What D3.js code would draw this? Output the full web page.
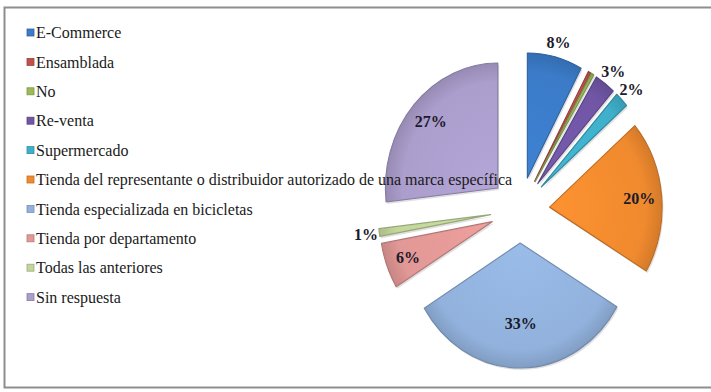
<!DOCTYPE html>
<html>
<head>
<meta charset="utf-8">
<script src="https://cdn.jsdelivr.net/npm/d3@7"></script>
</head>
<body style="margin:0;background:#fff">
<svg id="chart" width="711" height="392"></svg>
<script>
// Purchase channel shares (percent)
const categories = [
  "E-Commerce",
  "Ensamblada",
  "No",
  "Re-venta",
  "Supermercado",
  "Tienda del representante o distribuidor autorizado de una marca específica",
  "Tienda especializada en bicicletas",
  "Tienda por departamento",
  "Todas las anteriores",
  "Sin respuesta"
];
const values = [8, 0.4, 0.4, 3, 2, 20, 33, 6, 1, 27];
// "" = slice carries no label
const valueLabels = ["8%", "", "", "3%", "2%", "20%", "33%", "6%", "1%", "27%"];
const colors = [
  "#3b7bc8", "#c0504d", "#9bbb59", "#7156a6", "#3fb0cc",
  "#f08a2e", "#92b2dd", "#e29896", "#c3d69b", "#ab9dcc"
];
// slices small enough to carry their label outside
const outsideLabels = ["E-Commerce", "Re-venta", "Supermercado", "Todas las anteriores"];

const FONT = '"Liberation Serif"';
const svg = d3.select("#chart");

// chart frame
svg.append("rect")
  .attr("x", 4.5).attr("y", 7.5)
  .attr("width", 740).attr("height", 380)
  .attr("fill", "#fff")
  .attr("stroke", "#8e8e8e").attr("stroke-width", 2);

// pie geometry
const cx = 520, cy = 210;
const r = 125;          // vertical radius
const sx = 0.9;         // horizontal squash of the plot area
const explode = 33;     // distance each slice is pulled out

const pie = d3.pie().sort(null).value(d => d.value);
const arcs = pie(categories.map((c, i) => ({ name: c, value: values[i], color: colors[i], label: valueLabels[i] })));
const arc = d3.arc().innerRadius(0).outerRadius(r);
const mid = a => (a.startAngle + a.endAngle) / 2;

const defs = svg.append("defs");
arcs.forEach((a, i) => {
  const base = d3.color(a.data.color);
  const g = defs.append("radialGradient")
    .attr("id", "g" + i)
    .attr("gradientUnits", "userSpaceOnUse")
    .attr("cx", 0).attr("cy", 0).attr("r", r);
  g.append("stop").attr("offset", "0%").attr("stop-color", base.brighter(0.15));
  g.append("stop").attr("offset", "85%").attr("stop-color", base);
  g.append("stop").attr("offset", "100%").attr("stop-color", base.darker(0.35));
});

const pieG = svg.append("g")
  .attr("transform", `translate(${cx},${cy}) scale(${sx},1)`);

const offset = a => `translate(${explode * Math.sin(mid(a))},${-explode * Math.cos(mid(a))})`;

// soft shadow under each slice
pieG.selectAll("path.shade")
  .data(arcs)
  .join("path")
  .attr("class", "shade")
  .attr("transform", a => offset(a) + " translate(1.5,2)")
  .attr("d", arc)
  .attr("fill", "#000")
  .attr("fill-opacity", 0.12);

pieG.selectAll("path.slice")
  .data(arcs)
  .join("path")
  .attr("class", "slice")
  .attr("transform", offset)
  .attr("d", arc)
  .attr("fill", (a, i) => `url(#g${i})`)
  .attr("stroke", a => d3.color(a.data.color).darker(0.7))
  .attr("stroke-width", 1.2)
  .attr("stroke-linejoin", "round");

// legend
const legend = svg.append("g").attr("transform", "translate(27,32.5)");
const rowH = 29.4;
const rows = legend.selectAll("g")
  .data(categories)
  .join("g")
  .attr("transform", (d, i) => `translate(0,${i * rowH})`);
rows.append("rect")
  .attr("x", 0).attr("y", -3.5)
  .attr("width", 7).attr("height", 7)
  .attr("fill", (d, i) => colors[i])
  .attr("stroke", (d, i) => d3.color(colors[i]).darker(0.6))
  .attr("stroke-width", 0.8);
rows.append("text")
  .attr("x", 9).attr("y", 0)
  .attr("dy", "0.35em")
  .attr("font-family", "Liberation Serif")
  .style("font-family", FONT)
  .style("font-size", "16px")
  .attr("fill", "#1a1a1a")
  .text(d => d);

// percentage labels
function labelRadius(a) {
  if (outsideLabels.includes(a.data.name)) return explode + r + 15;
  // wide slices keep their label nearer the middle
  const width = a.endAngle - a.startAngle;
  return explode + r * (width > 1.9 ? 0.64 : 0.8);
}

svg.append("g").selectAll("text")
  .data(arcs.filter(a => a.data.label))
  .join("text")
  .attr("x", a => cx + sx * labelRadius(a) * Math.sin(mid(a)))
  .attr("y", a => cy - labelRadius(a) * Math.cos(mid(a)))
  .attr("text-anchor", "middle")
  .attr("dy", "0.35em")
  .attr("font-family", "Liberation Serif")
  .style("font-family", FONT)
  .style("font-size", "16px")
  .style("font-weight", "bold")
  .attr("fill", "#1a1a2a")
  .text(a => a.data.label);
</script>
</body>
</html>
